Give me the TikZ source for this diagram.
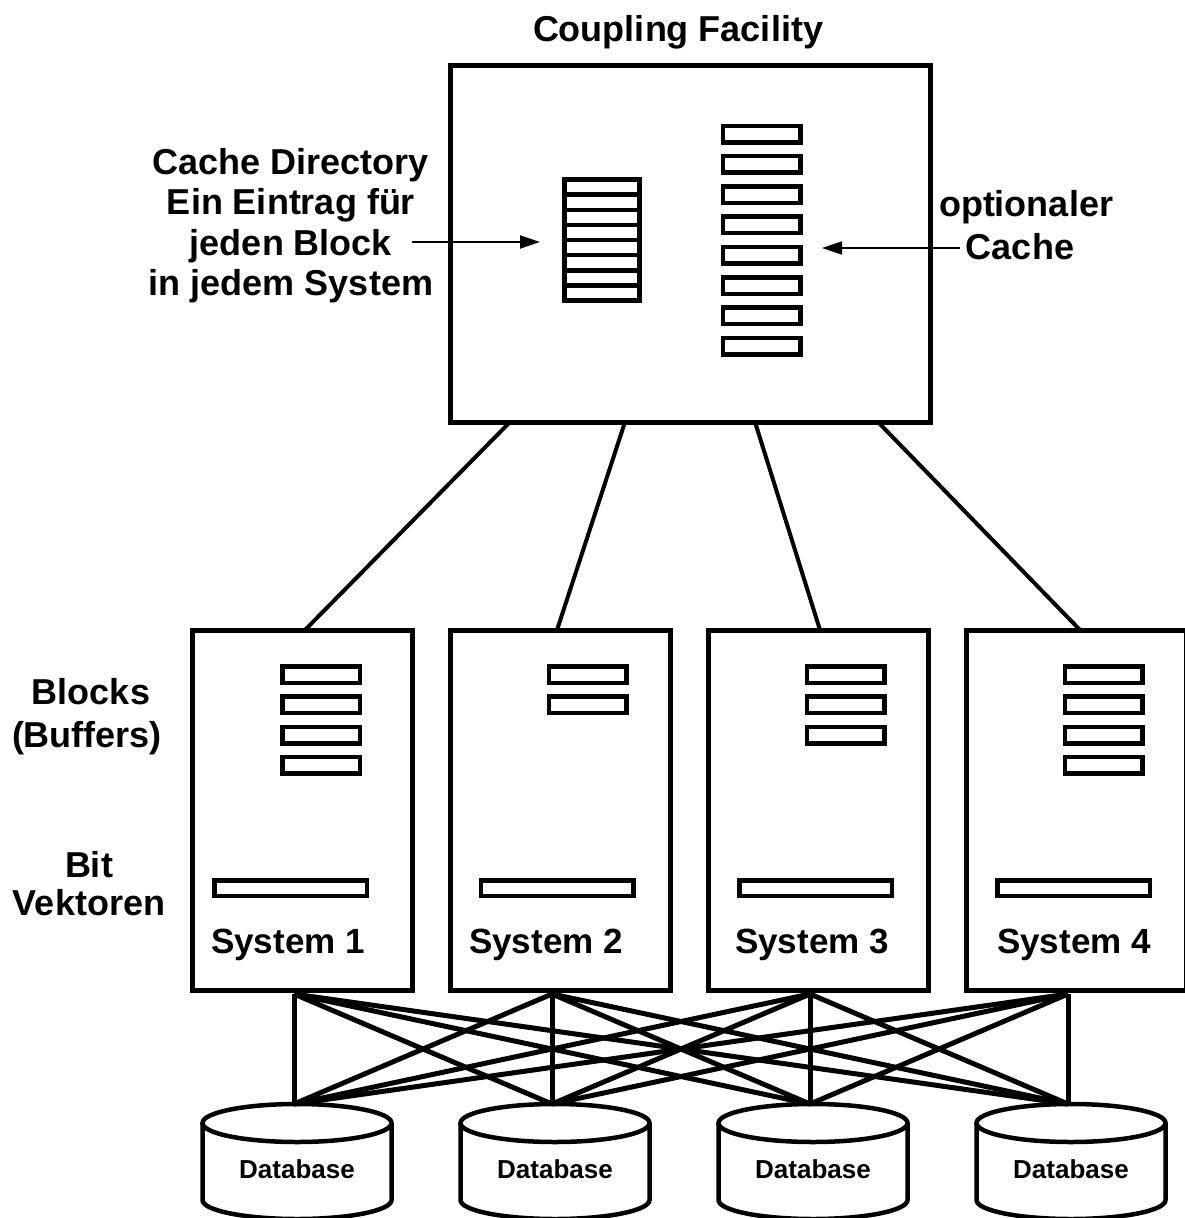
\documentclass[tikz,border=0pt]{standalone}
\usepackage{fontspec}
\setmainfont{Liberation Sans}
\usetikzlibrary{arrows.meta}
\begin{document}
\begin{tikzpicture}[x=1pt,y=-1pt,
  sysbox/.style={draw, line width=5pt, minimum width=220pt, minimum height=360pt, inner sep=0pt, outer sep=0pt},
  cfbox/.style={draw, line width=5pt, minimum width=480pt, minimum height=357pt, inner sep=0pt, outer sep=0pt},
  dirbox/.style={draw, line width=5pt, minimum width=75pt, minimum height=121pt, inner sep=0pt, outer sep=0pt},
  slot/.style={draw, line width=4.5pt, minimum width=77.5pt, minimum height=16.5pt, inner sep=0pt},
  bitvec/.style={draw, line width=4.5pt, minimum width=152.5pt, minimum height=15.5pt, inner sep=0pt},
  lbl/.style={font=\fontsize{36}{41}\selectfont\bfseries, inner sep=0pt, anchor=base},
  syslbl/.style={font=\fontsize{35}{40}\selectfont\bfseries, inner sep=0pt, anchor=base},
  dblbl/.style={font=\fontsize{26}{30}\selectfont\bfseries, inner sep=0pt, anchor=base},
  link/.style={line width=4pt},
  cross/.style={line width=5pt},
  dbline/.style={line width=4.5pt},
  pointer/.style={line width=2pt, -{Triangle[length=20pt,width=13pt]}},
]
\useasboundingbox (0,0) rectangle (1185,1218);
\fill[white] (0,0) rectangle (1185,1218);
\clip (0,0) rectangle (1185,1218);

% Coupling facility
\node[lbl] (title) at (678,41) {Coupling Facility};
\node[cfbox] (cf) at (690,243.5) {};
\node[dirbox] (dir) at (602,240) {};
\foreach \k in {1,...,7} {
  \draw[line width=4.5pt] ([yshift=-\k*15.125pt]dir.north west) -- ([yshift=-\k*15.125pt]dir.north east);
}
\foreach \k in {0,...,7} {
  \node[slot] (oc\k) at (761.5,{134+30.3*\k}) {};
}

% labels in CF area
\node[lbl] (cd1) at (291,174) {Cache Directory};
\node[lbl] (cd2) at (291,214.5) {Ein Eintrag für};
\node[lbl] (cd3) at (291,255) {jeden Block};
\node[lbl] (cd4) at (291,295.5) {in jedem System};
\node[lbl] (oc1lbl) at (1026,216) {optionaler};
\node[lbl] (oc2lbl) at (1020,259) {Cache};

\coordinate (cdstart) at (412,242);
\coordinate (dirin) at (540,242);
\coordinate (ocstart) at (960,248);
\coordinate (ocin) at (822,248);
\draw[pointer] (cdstart) -- (dirin);
\draw[pointer] (ocstart) -- (ocin);

% Systems
\node[sysbox] (s1) at (302,810) {};
\node[sysbox] (s2) at (560,810) {};
\node[sysbox] (s3) at (818,810) {};
\node[sysbox] (s4) at (1076,810) {};

\foreach \k in {0,...,3} { \node[slot] (b1\k) at (321,{674.5+30.3*\k}) {}; }
\foreach \k in {0,...,1} { \node[slot] (b2\k) at (587.5,{674.5+30.3*\k}) {}; }
\foreach \k in {0,...,2} { \node[slot] (b3\k) at (845.5,{674.5+30.3*\k}) {}; }
\foreach \k in {0,...,3} { \node[slot] (b4\k) at (1103.5,{674.5+30.3*\k}) {}; }

\node[bitvec] (v1) at (290.5,888) {};
\node[bitvec] (v2) at (557,888) {};
\node[bitvec] (v3) at (815.5,888) {};
\node[bitvec] (v4) at (1073.5,888) {};

\node[syslbl] (n1) at (288,953) {System 1};
\node[syslbl] (n2) at (546,953) {System 2};
\node[syslbl] (n3) at (812,953) {System 3};
\node[syslbl] (n4) at (1074,953) {System 4};

\node[lbl] (bl1) at (91,704) {Blocks};
\node[lbl] (bl2) at (87,747) {(Buffers)};
\node[lbl] (bv1) at (89,877) {Bit};
\node[lbl] (bv2) at (89,915) {Vektoren};

% CF to systems
\coordinate (cf1) at (510,422);
\coordinate (cf2) at (625,422);
\coordinate (cf3) at (755,422);
\coordinate (cf4) at (878,422);
\coordinate (st1) at (305,630);
\coordinate (st2) at (557,630);
\coordinate (st3) at (820,630);
\coordinate (st4) at (1080,630);
\foreach \i in {1,...,4} { \draw[link] (cf\i) -- (st\i); }

% Databases
\foreach \c/\i in {297/1,555/2,813/3,1071/4} {
  \draw[dbline] (\c,1123) ellipse [x radius=94.5, y radius=19];
  \draw[dbline] (\c-94.5,1123) -- (\c-94.5,1200) arc[start angle=180, end angle=0, x radius=94.5, y radius=19] -- (\c+94.5,1123);
  \node[dblbl] (db\i) at (\c,1178) {Database};
}

% cross connections
\coordinate (sb1) at (294,994);
\coordinate (sb2) at (552,994);
\coordinate (sb3) at (810,994);
\coordinate (sb4) at (1068,994);
\coordinate (dt1) at (294,1104);
\coordinate (dt2) at (552,1104);
\coordinate (dt3) at (810,1104);
\coordinate (dt4) at (1068,1104);
\foreach \i in {1,...,4} {
  \foreach \j in {1,...,4} {
    \draw[cross] (sb\i) -- (dt\j);
  }
}
\end{tikzpicture}
\end{document}
